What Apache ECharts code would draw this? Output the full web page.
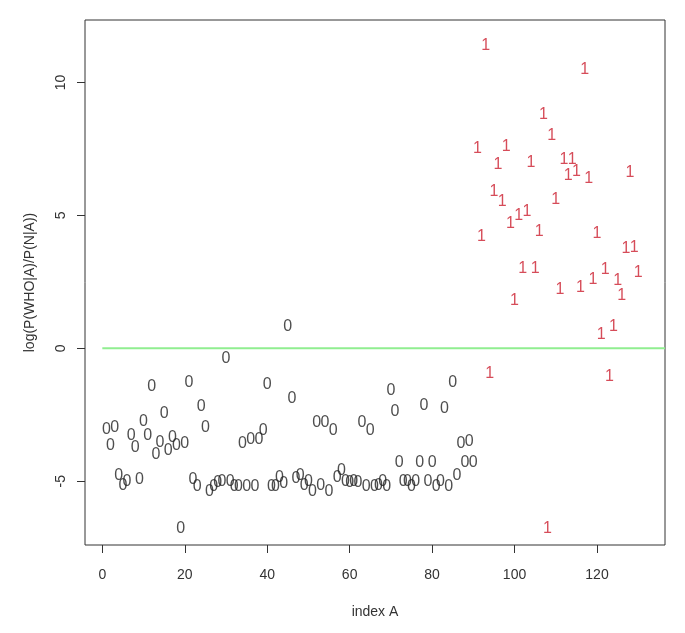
<!DOCTYPE html>
<html>
<head>
<meta charset="utf-8">
<script src="https://cdn.jsdelivr.net/npm/echarts@6/dist/echarts.min.js"></script>
<style>
  html, body { margin: 0; padding: 0; background: #fff; }
  #main { width: 685px; height: 633px; }
</style>
</head>
<body>
<div id="main"></div>
<script>
// scores of class 0 (index 1..90) and class 1 (index 91..130)
var zeroScores = [
  -3.05, -3.65, -3.0, -4.8, -5.15, -5.0, -3.3, -3.75, -4.95, -2.75,
  -3.3, -1.45, -4.0, -3.55, -2.45, -3.85, -3.35, -3.65, -6.8, -3.6,
  -1.3, -4.95, -5.2, -2.2, -3.0, -5.4, -5.2, -5.05, -5.0, -0.4,
  -5.0, -5.2, -5.2, -3.6, -5.2, -3.45, -5.2, -3.45, -3.1, -1.35,
  -5.2, -5.2, -4.85, -5.1, 0.8, -1.9, -4.9, -4.8, -5.15, -5.0,
  -5.4, -2.8, -5.15, -2.8, -5.4, -3.1, -4.85, -4.6, -5.0, -5.05,
  -5.0, -5.05, -2.8, -5.2, -3.1, -5.2, -5.15, -5.0, -5.2, -1.6,
  -2.4, -4.3, -5.0, -5.0, -5.2, -5.0, -4.3, -2.15, -5.0, -4.3,
  -5.2, -5.0, -2.25, -5.2, -1.3, -4.8, -3.6, -4.3, -3.5, -4.3
];
var oneScores = [
  7.5, 4.2, 11.4, -0.95, 5.9, 6.9, 5.5, 7.6, 4.7, 1.8,
  5.0, 3.0, 5.15, 7.0, 3.0, 4.4, 8.8, -6.8, 8.0, 5.6,
  2.2, 7.1, 6.5, 7.1, 6.65, 2.3, 10.5, 6.4, 2.6, 4.3,
  0.5, 2.95, -1.05, 0.8, 2.55, 2.0, 3.75, 6.6, 3.8, 2.85
];
var xTicks = [0, 20, 40, 60, 80, 100, 120];
var yTicks = [-5, 0, 5, 10];
var zeroLine = [[0, 0], [136.5, 0]];

var zeroData = zeroScores.map(function (v, i) { return [i + 1, v]; });
var oneData = oneScores.map(function (v, i) { return [zeroScores.length + i + 1, v]; });

var chart = echarts.init(document.getElementById('main'));

function textSeries(data, txt, color) {
  return {
    type: 'scatter',
    data: data,
    symbol: 'circle',
    symbolSize: 1,
    itemStyle: { color: 'rgba(0,0,0,0)' },
    silent: true,
    label: {
      show: true,
      position: 'inside',
      formatter: txt,
      color: color,
      fontFamily: 'Liberation Sans',
      fontSize: 16
    },
    z: 3
  };
}

var option = {
  animation: false,
  backgroundColor: '#fff',
  grid: {
    left: 85, right: 20, top: 20, bottom: 88,
    show: true, borderColor: '#333', borderWidth: 1
  },
  xAxis: {
    type: 'value',
    min: -4.2, max: 136.5,
    name: 'index A',
    nameLocation: 'middle',
    nameGap: 60,
    nameTextStyle: { fontFamily: 'Liberation Sans', fontSize: 14, color: '#333' },
    axisLine: { show: false, onZero: false },
    splitLine: { show: false },
    axisTick: { show: true, length: 8, customValues: xTicks, lineStyle: { color: '#333' } },
    axisLabel: { customValues: xTicks, margin: 23, fontFamily: 'Liberation Sans', fontSize: 14, color: '#333' }
  },
  yAxis: {
    type: 'value',
    min: -7.4, max: 12.35,
    name: 'log(P(WHO|A)/P(N|A))',
    nameLocation: 'middle',
    nameGap: 48,
    nameRotate: 90,
    nameTextStyle: { fontFamily: 'Liberation Sans', fontSize: 14, color: '#333' },
    axisLine: { show: false, onZero: false },
    splitLine: { show: false },
    axisTick: { show: true, length: 8, customValues: yTicks, lineStyle: { color: '#333' } },
    axisLabel: { customValues: yTicks, rotate: 90, margin: 17, fontFamily: 'Liberation Sans', fontSize: 14, color: '#333' }
  },
  series: [
    {
      type: 'line',
      data: zeroLine,
      symbol: 'none',
      silent: true,
      lineStyle: { color: '#90ee90', width: 2 },
      z: 1
    },
    textSeries(zeroData, '0', '#222'),
    textSeries(oneData, '1', '#cc1f2f')
  ]
};
chart.setOption(option);
</script>
</body>
</html>
